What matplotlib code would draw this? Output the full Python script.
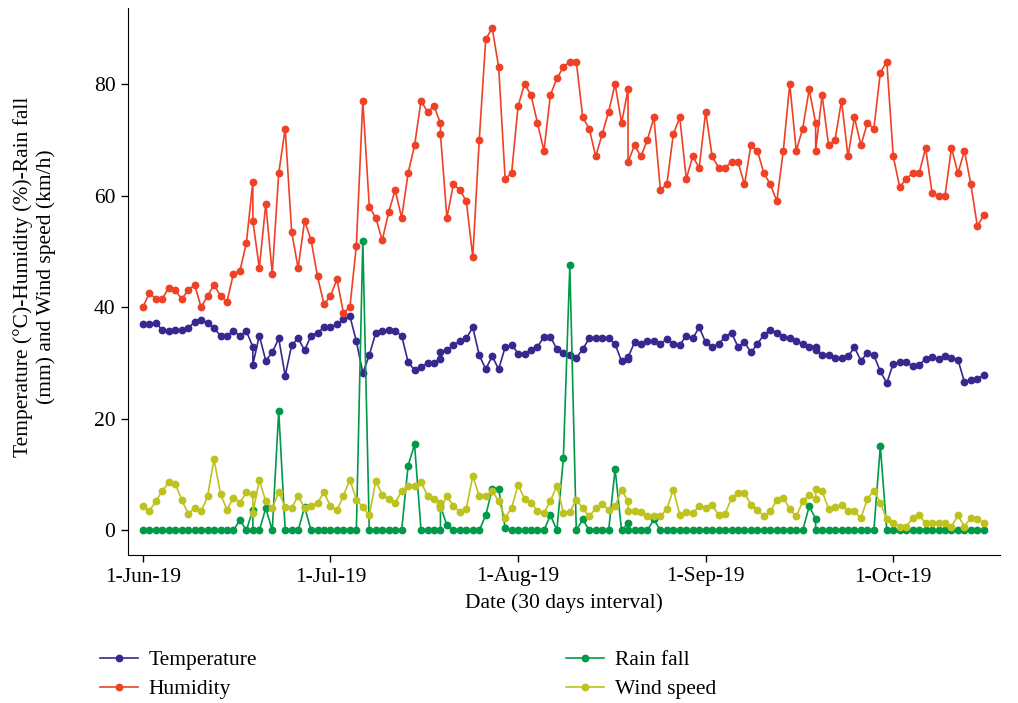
import matplotlib
matplotlib.use("Agg")
import matplotlib.pyplot as plt

# x positions: one per day step, some days appear twice in the data
n_days = 131
repeat_days = [17, 46, 75, 104]
tick_days = [0, 29, 58, 87, 116]
tick_labels = ["1-Jun-19", "1-Jul-19", "1-Aug-19", "1-Sep-19", "1-Oct-19"]

temperature = [
    37, 37, 37.2, 35.9, 35.7, 35.9, 35.9, 36.2, 37.4, 37.7,
    37.2, 36.2, 34.9, 34.9, 35.7, 34.9, 35.7, 32.9, 29.7, 34.9,
    30.4, 31.9, 34.4, 27.7, 33.2, 34.4, 32.3, 34.9, 35.4, 36.4,
    36.4, 36.9, 37.8, 38.4, 33.9, 28.2, 31.4, 35.4, 35.7, 35.9,
    35.7, 34.9, 30.2, 28.7, 29.2, 30.0, 30.0, 30.7, 31.9, 32.3,
    33.2, 33.9, 34.4, 36.4, 31.4, 28.9, 31.2, 28.9, 32.8, 33.3,
    31.7, 31.7, 32.3, 32.9, 34.7, 34.7, 32.5, 31.8, 31.4, 30.9,
    32.5, 34.4, 34.4, 34.4, 34.4, 33.4, 30.3, 30.8, 31.0, 33.7,
    33.4, 33.9, 33.9, 33.4, 34.3, 33.4, 33.2, 34.9, 34.4, 36.4,
    33.7, 32.9, 33.4, 34.7, 35.4, 32.9, 33.7, 31.9, 33.4, 35.1,
    35.9, 35.4, 34.7, 34.4, 33.9, 33.4, 32.9, 32.9, 32.3, 31.4,
    31.4, 30.9, 30.9, 31.2, 32.8, 30.4, 31.8, 31.4, 28.5, 26.4,
    29.9, 30.1, 30.1, 29.5, 29.7, 30.7, 31.0, 30.7, 31.3, 30.9,
    30.6, 26.6, 26.9, 27.2, 27.8,
]

humidity = [
    40, 42.5, 41.5, 41.5, 43.5, 43, 41.5, 43, 44, 40,
    42, 44, 42, 41, 46, 46.5, 51.5, 62.5, 55.5, 47,
    58.5, 46, 64, 72, 53.5, 47, 55.5, 52, 45.5, 40.5,
    42, 45, 39, 40, 51, 77, 58, 56, 52, 57,
    61, 56, 64, 69, 77, 75, 76, 73, 71, 56,
    62, 61, 59, 49, 70, 88, 90, 83, 63, 64,
    76, 80, 78, 73, 68, 78, 81, 83, 84, 84,
    74, 72, 67, 71, 75, 80, 73, 79, 66, 69,
    67, 70, 74, 61, 62, 71, 74, 63, 67, 65,
    75, 67, 65, 65, 66, 66, 62, 69, 68, 64,
    62, 59, 68, 80, 68, 72, 79, 73, 68, 78,
    69, 70, 77, 67, 74, 69, 73, 72, 82, 84,
    67, 61.5, 63, 64, 64, 68.5, 60.5, 60, 60, 68.5,
    64, 68, 62, 54.5, 56.5,
]

rain_fall = [
    0, 0, 0, 0, 0, 0, 0, 0, 0, 0,
    0, 0, 0, 0, 0, 1.9, 0, 3.7, 0, 0,
    4.0, 0, 21.4, 0, 0, 0, 4.2, 0, 0, 0,
    0, 0, 0, 0, 0, 51.9, 0, 0, 0, 0,
    0, 0, 11.6, 15.4, 0, 0, 0, 0, 4.4, 0.9,
    0, 0, 0, 0, 0, 2.7, 7.4, 7.4, 0.5, 0,
    0, 0, 0, 0, 0, 2.8, 0, 12.9, 47.5, 0,
    2.0, 0, 0, 0, 0, 11.0, 0, 1.3, 0, 0,
    0, 0, 2.0, 0, 0, 0, 0, 0, 0, 0,
    0, 0, 0, 0, 0, 0, 0, 0, 0, 0,
    0, 0, 0, 0, 0, 0, 4.3, 2.1, 0, 0,
    0, 0, 0, 0, 0, 0, 0, 0, 15.1, 0,
    0, 0, 0, 0, 0, 0, 0, 0, 0, 0,
    0, 0, 0, 0, 0,
]

wind_speed = [
    4.3, 3.5, 5.2, 7.1, 8.6, 8.4, 5.5, 3.0, 4.0, 3.4,
    6.1, 12.8, 6.5, 3.7, 5.9, 5.0, 6.8, 6.5, 3.2, 9.0,
    5.2, 4.0, 6.9, 4.2, 4.0, 6.2, 4.0, 4.3, 5.0, 6.8,
    4.4, 3.6, 6.2, 9.1, 5.5, 4.2, 2.7, 8.9, 6.4, 5.6,
    4.9, 7.1, 8.0, 7.9, 8.7, 6.2, 5.6, 5.0, 4.0, 6.1,
    4.4, 3.3, 3.9, 9.8, 6.1, 6.1, 7.1, 5.2, 2.3, 4.0,
    8.2, 5.6, 5.0, 3.5, 3.1, 5.3, 8.0, 3.2, 3.3, 5.5,
    4.0, 2.5, 4.0, 4.7, 3.7, 4.3, 7.3, 5.2, 3.5, 3.5,
    3.3, 2.5, 2.5, 2.5, 3.9, 7.3, 2.8, 3.3, 3.1, 4.4,
    4.0, 4.5, 2.8, 3.0, 5.8, 6.7, 6.7, 4.6, 3.7, 2.6,
    3.4, 5.5, 5.9, 3.8, 2.5, 5.2, 6.4, 5.6, 7.4, 7.0,
    3.9, 4.2, 4.6, 3.5, 3.4, 2.2, 5.7, 7.1, 5.0, 2.0,
    1.3, 0.7, 0.7, 2.2, 2.7, 1.3, 1.3, 1.3, 1.3, 0.7,
    2.7, 0.7, 2.3, 2.0, 1.3,
]

day = sorted(list(range(n_days)) + repeat_days)

plt.rcParams["font.family"] = ["Liberation Serif", "DejaVu Serif"]
plt.rcParams["font.size"] = 15.5

fig = plt.figure(figsize=(10.18, 7.03), dpi=100)
ax = fig.add_axes([128 / 1018, 1 - 555 / 703, 872 / 1018, 547 / 703])

series = [
    ("Temperature", temperature, "#35298f"),
    ("Humidity", humidity, "#ee4126"),
    ("Rain fall", rain_fall, "#00994a"),
    ("Wind speed", wind_speed, "#bdc21e"),
]
handles = []
for name, vals, col in series:
    h, = ax.plot(day, vals, color=col, lw=1.2, marker="o", ms=4.6, label=name)
    handles.append(h)

ax.set_xlim(-2.3, 132.5)
ax.set_ylim(-4.4, 93.6)
ax.set_yticks([0, 20, 40, 60, 80])
ax.set_xticks(tick_days)
ax.set_xticklabels(tick_labels)
ax.spines["top"].set_visible(False)
ax.spines["right"].set_visible(False)
ax.tick_params(length=5, width=1, pad=4)
ax.set_xlabel("Date (30 days interval)", labelpad=5)
ax.set_ylabel("Temperature (°C)-Humidity (%)-Rain fall\n(mm) and Wind speed (km/h)")
ax.yaxis.set_label_coords(-0.083, 0.508)

fig.legend(handles=handles,
           loc="upper left", bbox_to_anchor=(81 / 1018, 1 - 631 / 703),
           ncol=2, frameon=False, handlelength=1.75, handletextpad=0.5,
           columnspacing=14.35, labelspacing=0.4)

fig.savefig("out.png", dpi=100)
